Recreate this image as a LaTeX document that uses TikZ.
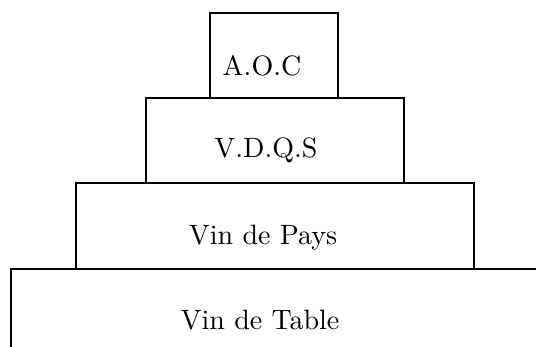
\documentclass[tikz,border=0pt]{standalone}
\usepackage{fontspec}
\setmainfont{lmroman10-regular.otf}
\begin{document}
\begin{tikzpicture}[x=1pt,y=-1pt,
  tier/.style={draw=black,line width=2.2pt},
  lbl/.style={anchor=base,inner sep=0pt,font=\fontsize{28}{32}\selectfont}]
\useasboundingbox (0,0) rectangle (536,347);
\draw[tier] (210,13) rectangle (338,98);
\draw[tier] (146,98) rectangle (404,183);
\draw[tier] (76,183) rectangle (474,269);
\draw[tier] (11,347) -- (11,269) -- (536,269);
\node[lbl] (aoc) at (262,76) {A.O.C};
\node[lbl] (vdqs) at (266,158) {V.D.Q.S};
\node[lbl] (pays) at (263,245) {Vin de Pays};
\node[lbl] (table) at (260,330) {Vin de Table};
\end{tikzpicture}
\end{document}
